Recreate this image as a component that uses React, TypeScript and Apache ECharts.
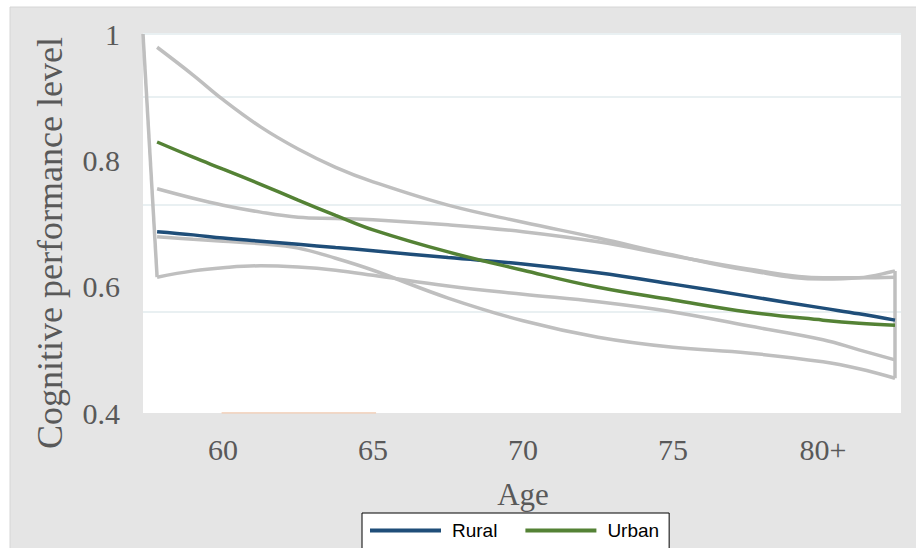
import React, { useEffect, useRef } from "react";
import * as echarts from "echarts";

// Ages (x) at which the curves were read
const ages = [57.8, 59, 60, 61.25, 62.5, 63.75, 65, 67.5, 70, 72.5, 75, 77.5, 80, 81.2, 82.4];
// Mean curves
const rural = [0.687, 0.682, 0.677, 0.672, 0.667, 0.662, 0.657, 0.646, 0.636, 0.622, 0.604, 0.585, 0.566, 0.557, 0.547];
const urban = [0.829, 0.805, 0.786, 0.762, 0.737, 0.713, 0.69, 0.655, 0.626, 0.599, 0.579, 0.56, 0.547, 0.542, 0.539];
// Gray confidence band outlines
const band1 = [0.979, 0.935, 0.896, 0.853, 0.818, 0.789, 0.766, 0.729, 0.702, 0.677, 0.65, 0.626, 0.612, 0.614, 0.625];
const band2 = [0.755, 0.74, 0.729, 0.718, 0.71, 0.708, 0.706, 0.698, 0.687, 0.671, 0.649, 0.628, 0.614, 0.614, 0.615];
const band3 = [0.679, 0.675, 0.672, 0.668, 0.661, 0.645, 0.626, 0.582, 0.546, 0.52, 0.504, 0.495, 0.481, 0.47, 0.455];
const band4 = [0.615, 0.625, 0.63, 0.633, 0.631, 0.626, 0.618, 0.601, 0.588, 0.576, 0.56, 0.538, 0.516, 0.5, 0.484];
// Band closing edges
const leftEdge = [[57.33, 1.0], [57.8, 0.615]];
const rightEdge = [[82.4, 0.625], [82.4, 0.455]];
const baseArtifact = [[59.95, 0.4], [65.1, 0.4]];
// Faint gridlines (offset from labels in the original)
const gridValues = [0.5615, 0.7325, 0.9034, 1.0];
// Tick labels
const xTickValues = [60, 65, 70, 75, 80];
const xTickLabels = ["60", "65", "70", "75", "80+"];
const yTickValues = [0.4, 0.6, 0.8, 1];
const yTickLabels = ["0.4", "0.6", "0.8", "1"];

const GRAY = "#bfbfbf";
const BLUE = "#1f4e79";
const GREEN = "#548235";
const TEXT = "#595959";
const SERIF = "Liberation Serif";

const pair = (ys: number[]) => ages.map((a, i) => [a, ys[i]]);

export default function App() {
  const ref = useRef<HTMLDivElement>(null);
  useEffect(() => {
    if (!ref.current) return;
    const chart = echarts.init(ref.current, null, { renderer: "svg" });
    const grayLine = (name: string, data: number[][], extra: any = {}) => ({
      name,
      type: "line",
      data,
      smooth: 0.4,
      symbol: "none",
      lineStyle: { color: GRAY, width: 3.5 },
      z: 2,
      ...extra,
    });
    chart.setOption({
      animation: false,
      graphic: [
        {
          type: "rect",
          z: -10,
          shape: { x: 10, y: 7, width: 910, height: 545 },
          style: { fill: "#e5e5e5", stroke: "#d6d6d6", lineWidth: 1 },
        },
        {
          type: "text",
          x: 50,
          y: 243,
          rotation: Math.PI / 2,
          style: {
            text: "Cognitive performance level",
            font: `36px "${SERIF}"`,
            fill: TEXT,
            align: "center",
            verticalAlign: "middle",
          },
        },
        {
          type: "text",
          x: 523,
          y: 494,
          style: {
            text: "Age",
            font: `31px "${SERIF}"`,
            fill: TEXT,
            align: "center",
            verticalAlign: "middle",
          },
        },
      ],
      grid: {
        left: 143,
        top: 34,
        right: 15,
        bottom: 135,
        show: true,
        backgroundColor: "#ffffff",
        borderWidth: 0,
      },
      legend: {
        data: ["Rural", "Urban"],
        left: 362,
        top: 513,
        icon: "rect",
        itemWidth: 71,
        itemHeight: 4,
        itemGap: 28,
        backgroundColor: "#ffffff",
        borderColor: "#000000",
        borderWidth: 1,
        borderRadius: 0,
        padding: [8, 10, 14, 8],
        textStyle: {
          fontFamily: "Liberation Sans",
          fontSize: 19,
          color: "#000000",
          padding: [0, 0, 0, 6],
        },
      },
      xAxis: {
        type: "value",
        min: 57.33,
        max: 82.6,
        axisLine: { show: false },
        axisTick: { show: false },
        splitLine: { show: false },
        axisLabel: {
          customValues: xTickValues,
          formatter: (v: number) => xTickLabels[xTickValues.indexOf(v)] ?? "",
          fontFamily: SERIF,
          fontSize: 30,
          color: TEXT,
          margin: 21,
        },
      },
      yAxis: {
        type: "value",
        min: 0.4,
        max: 1,
        interval: 0.2,
        axisLine: { show: false },
        axisTick: { show: false },
        splitLine: { show: false },
        axisLabel: {
          formatter: (v: number) => {
            const i = yTickValues.findIndex((t) => Math.abs(t - v) < 1e-6);
            return i >= 0 ? yTickLabels[i] : "";
          },
          fontFamily: SERIF,
          fontSize: 30,
          color: TEXT,
          margin: 23,
        },
      },
      series: [
        grayLine("band1", pair(band1), {
          markLine: {
            silent: true,
            symbol: "none",
            label: { show: false },
            lineStyle: { color: "#e9f0f2", width: 2, type: "solid" },
            data: gridValues.map((v) => ({ yAxis: v })),
            z: 1,
          },
        }),
        grayLine("band2", pair(band2)),
        grayLine("band3", pair(band3)),
        grayLine("band4", pair(band4)),
        grayLine("leftEdge", leftEdge, { smooth: false }),
        grayLine("rightEdge", rightEdge, { smooth: false }),
        {
          name: "baseArtifact",
          type: "line",
          data: baseArtifact,
          symbol: "none",
          lineStyle: { color: "#f1cbb2", width: 1.5 },
          z: 1,
        },
        {
          name: "Rural",
          type: "line",
          data: pair(rural),
          smooth: 0.4,
          symbol: "none",
          color: BLUE,
          lineStyle: { color: BLUE, width: 3.5 },
          z: 3,
        },
        {
          name: "Urban",
          type: "line",
          data: pair(urban),
          smooth: 0.4,
          symbol: "none",
          color: GREEN,
          lineStyle: { color: GREEN, width: 3.5 },
          z: 4,
        },
      ],
    });
    return () => chart.dispose();
  }, []);
  return (
    <div
      ref={ref}
      style={{ position: "absolute", left: 0, top: 0, width: 916, height: 548 }}
    />
  );
}
